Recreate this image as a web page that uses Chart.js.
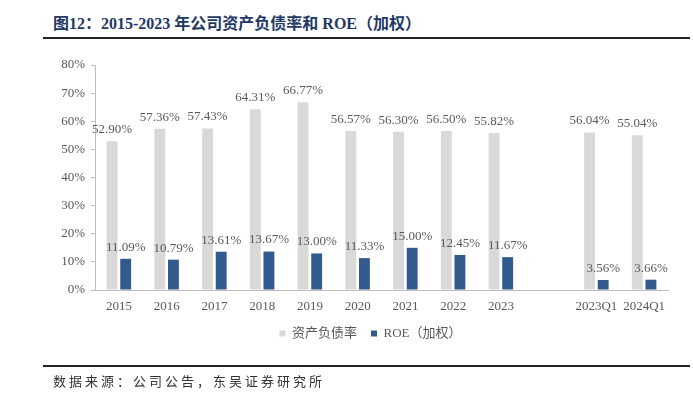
<!DOCTYPE html>
<html>
<head>
<meta charset="utf-8">
<script src="https://cdn.jsdelivr.net/npm/chart.js@4"></script>
<style>
  html, body { margin: 0; padding: 0; background: #fff; }
  body { width: 693px; height: 395px; position: relative; overflow: hidden; }
  #title {
    position: absolute; left: 53px; top: 10px;
    font: bold 16px 'Liberation Serif', 'Noto Sans CJK SC', serif;
    color: #1f3864; white-space: nowrap;
  }
  .rule { position: absolute; left: 43px; width: 647px; background: #222; }
  #source {
    position: absolute; left: 53px; top: 371px;
    font: 13px 'Noto Sans CJK SC', sans-serif; color: #333;
    letter-spacing: 3px; white-space: nowrap;
  }
  #wrap { position: absolute; left: 0; top: 0; width: 693px; height: 395px; }
</style>
</head>
<body>
<div id="title">图12：2015-2023 年公司资产负债率和 ROE（加权）</div>
<div class="rule" style="top:37px;height:2px;"></div>
<div id="wrap"><canvas id="chart"></canvas></div>
<div class="rule" style="top:365px;height:1.5px;"></div>
<div id="source">数据来源：公司公告，东吴证券研究所</div>

<script>
  // categories (blank slot separates annual and quarterly figures)
  var categories = ['2015', '2016', '2017', '2018', '2019', '2020', '2021', '2022', '2023', '', '2023Q1', '2024Q1'];
  // 资产负债率 (%)
  var debtRatio = [52.90, 57.36, 57.43, 64.31, 66.77, 56.57, 56.30, 56.50, 55.82, null, 56.04, 55.04];
  // ROE 加权 (%)
  var roe = [11.09, 10.79, 13.61, 13.67, 13.00, 11.33, 15.00, 12.45, 11.67, null, 3.56, 3.66];
  var yTicks = [0, 10, 20, 30, 40, 50, 60, 70, 80];

  var SERIF = "'Liberation Serif', 'Noto Sans CJK SC', serif";
  var GRAY_TEXT = '#595959';
  var AXIS = '#bfbfbf';

  // draws the value above every bar
  var valueLabels = {
    id: 'valueLabels',
    afterDatasetsDraw: function (chart) {
      var ctx = chart.ctx;
      ctx.save();
      ctx.font = '13px ' + SERIF;
      ctx.fillStyle = GRAY_TEXT;
      ctx.textAlign = 'center';
      ctx.textBaseline = 'bottom';
      chart.data.datasets.forEach(function (ds, i) {
        var meta = chart.getDatasetMeta(i);
        meta.data.forEach(function (bar, j) {
          var v = ds.data[j];
          if (v === null || v === undefined) return;
          ctx.fillText(v.toFixed(2) + '%', bar.x, bar.y - 5);
        });
      });
      ctx.restore();
    }
  };

  // nudge the legend a little right, as in the source figure
  var legendShift = {
    id: 'legendShift',
    afterLayout: function (chart) {
      if (!chart.legend) return;
      chart.legend.left += 14;
      chart.legend.right += 14;
    }
  };

  new Chart(document.getElementById('chart'), {
    type: 'bar',
    data: {
      labels: categories,
      datasets: [
        {
          label: '资产负债率',
          data: debtRatio,
          backgroundColor: '#d9d9d9',
          categoryPercentage: 0.57,
          barPercentage: 0.8
        },
        {
          label: 'ROE（加权）',
          data: roe,
          backgroundColor: '#335a8e',
          categoryPercentage: 0.57,
          barPercentage: 0.8
        }
      ]
    },
    options: {
      responsive: true,
      maintainAspectRatio: false,
      animation: false,
      layout: { padding: { top: 65, left: 45, right: 25, bottom: 45 } },
      plugins: {
        tooltip: { enabled: false },
        legend: {
          position: 'bottom',
          labels: {
            color: GRAY_TEXT,
            font: { family: SERIF, size: 13 },
            boxWidth: 6,
            boxHeight: 6,
            padding: 14
          }
        }
      },
      scales: {
        x: {
          grid: { display: false },
          border: { display: true, color: AXIS, width: 1 },
          ticks: {
            color: GRAY_TEXT,
            font: { family: SERIF, size: 13 },
            padding: 1,
            maxRotation: 0,
            autoSkip: false
          },
          afterFit: function (s) { s.height = 23; }
        },
        y: {
          min: 0,
          max: 80,
          afterBuildTicks: function (s) {
            s.ticks = yTicks.map(function (v) { return { value: v }; });
          },
          grid: {
            drawOnChartArea: false,
            drawTicks: true,
            tickLength: 4,
            color: AXIS
          },
          border: { display: true, color: AXIS, width: 1 },
          ticks: {
            color: GRAY_TEXT,
            font: { family: SERIF, size: 13 },
            padding: 6,
            callback: function (v) { return v + '%'; }
          },
          afterFit: function (s) { s.width = 50; }
        }
      }
    },
    plugins: [valueLabels, legendShift]
  });
</script>
</body>
</html>
